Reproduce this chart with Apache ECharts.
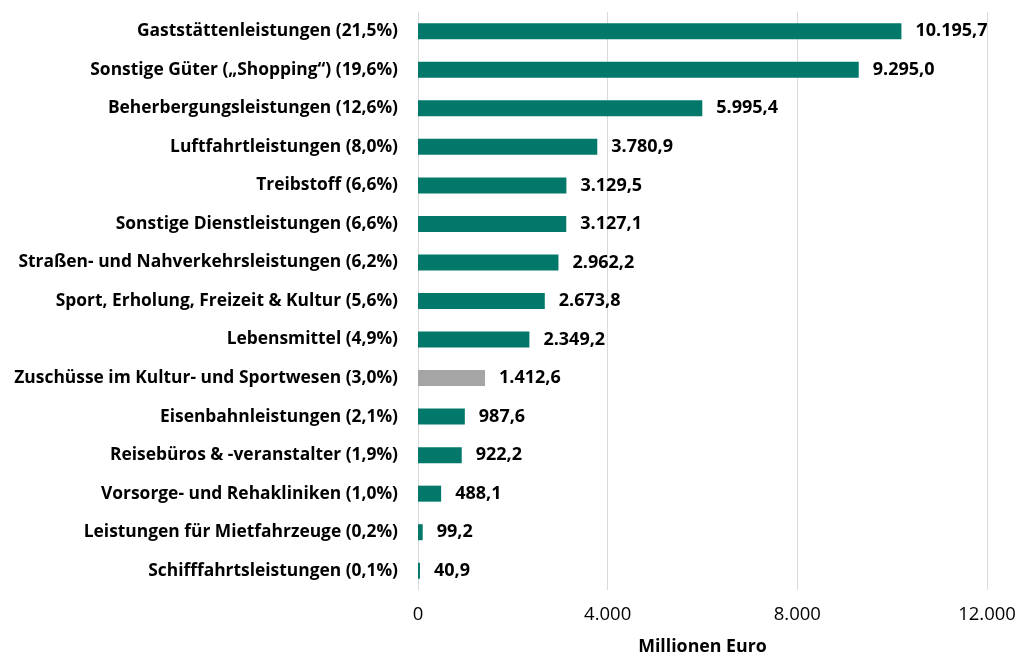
<!DOCTYPE html>
<html>
<head>
<meta charset="utf-8">
<script src="https://cdn.jsdelivr.net/npm/echarts@6/dist/echarts.min.js"></script>
<style>
  html, body { margin: 0; padding: 0; background: #fff; }
  #container { width: 1018px; height: 654px; }
</style>
</head>
<body>
<div id="container"></div>
<script>
var categories = [
  'Gaststättenleistungen (21,5%)',
  'Sonstige Güter („Shopping“) (19,6%)',
  'Beherbergungsleistungen (12,6%)',
  'Luftfahrtleistungen (8,0%)',
  'Treibstoff (6,6%)',
  'Sonstige Dienstleistungen (6,6%)',
  'Straßen- und Nahverkehrsleistungen (6,2%)',
  'Sport, Erholung, Freizeit & Kultur (5,6%)',
  'Lebensmittel (4,9%)',
  'Zuschüsse im Kultur- und Sportwesen (3,0%)',
  'Eisenbahnleistungen (2,1%)',
  'Reisebüros & -veranstalter (1,9%)',
  'Vorsorge- und Rehakliniken (1,0%)',
  'Leistungen für Mietfahrzeuge (0,2%)',
  'Schifffahrtsleistungen (0,1%)'
];
var values = [10195.7, 9295.0, 5995.4, 3780.9, 3129.5, 3127.1, 2962.2, 2673.8, 2349.2, 1412.6, 987.6, 922.2, 488.1, 99.2, 40.9];
var greyIndex = [9];
var tickValues = [0, 4000, 8000, 12000];

var teal = '#02786A';
var grey = '#A5A5A5';
var fontName = 'Open Sans';

function deNumber(v, digits) {
  var s = v.toFixed(digits);
  var parts = s.split('.');
  var intPart = parts[0].replace(/\B(?=(\d{3})+(?!\d))/g, '.');
  return parts.length > 1 ? intPart + ',' + parts[1] : intPart;
}

var barData = values.map(function (v, i) {
  return {
    value: v,
    itemStyle: { color: greyIndex.indexOf(i) >= 0 ? grey : teal }
  };
});

var myChart = echarts.init(document.getElementById('container'), null, {renderer: 'canvas'});
myChart.setOption({
  backgroundColor: '#fff',
  animation: false,
  grid: {
    left: 418,
    right: 31,
    top: 12,
    bottom: 64,
    containLabel: false,
    outerBoundsMode: 'none'
  },
  xAxis: {
    type: 'value',
    min: tickValues[0],
    max: tickValues[tickValues.length - 1],
    interval: tickValues[1] - tickValues[0],
    axisLine: { show: false },
    axisTick: { show: false },
    splitLine: { lineStyle: { color: '#D9D9D9', width: 1 } },
    axisLabel: {
      color: '#000',
      fontFamily: fontName,
      fontSize: 18.5,
      margin: 15,
      formatter: function (v) { return deNumber(v, 0); }
    },
    name: 'Millionen Euro',
    nameLocation: 'middle',
    nameGap: 48,
    nameTextStyle: {
      color: '#000',
      fontFamily: fontName,
      fontSize: 17.8,
      fontWeight: 'bold'
    }
  },
  yAxis: {
    type: 'category',
    data: categories,
    inverse: true,
    axisLine: { show: true, lineStyle: { color: '#D9D9D9' } },
    axisTick: { show: false },
    axisLabel: {
      color: '#000',
      fontFamily: fontName,
      fontSize: 17.4,
      fontWeight: 'bold',
      margin: 20
    }
  },
  series: [{
    type: 'bar',
    data: barData,
    barWidth: 16,
    label: {
      show: true,
      position: 'right',
      distance: 14,
      color: '#000',
      fontFamily: fontName,
      fontSize: 18,
      fontWeight: 'bold',
      formatter: function (p) { return deNumber(p.value, 1); }
    }
  }]
});
</script>
</body>
</html>
